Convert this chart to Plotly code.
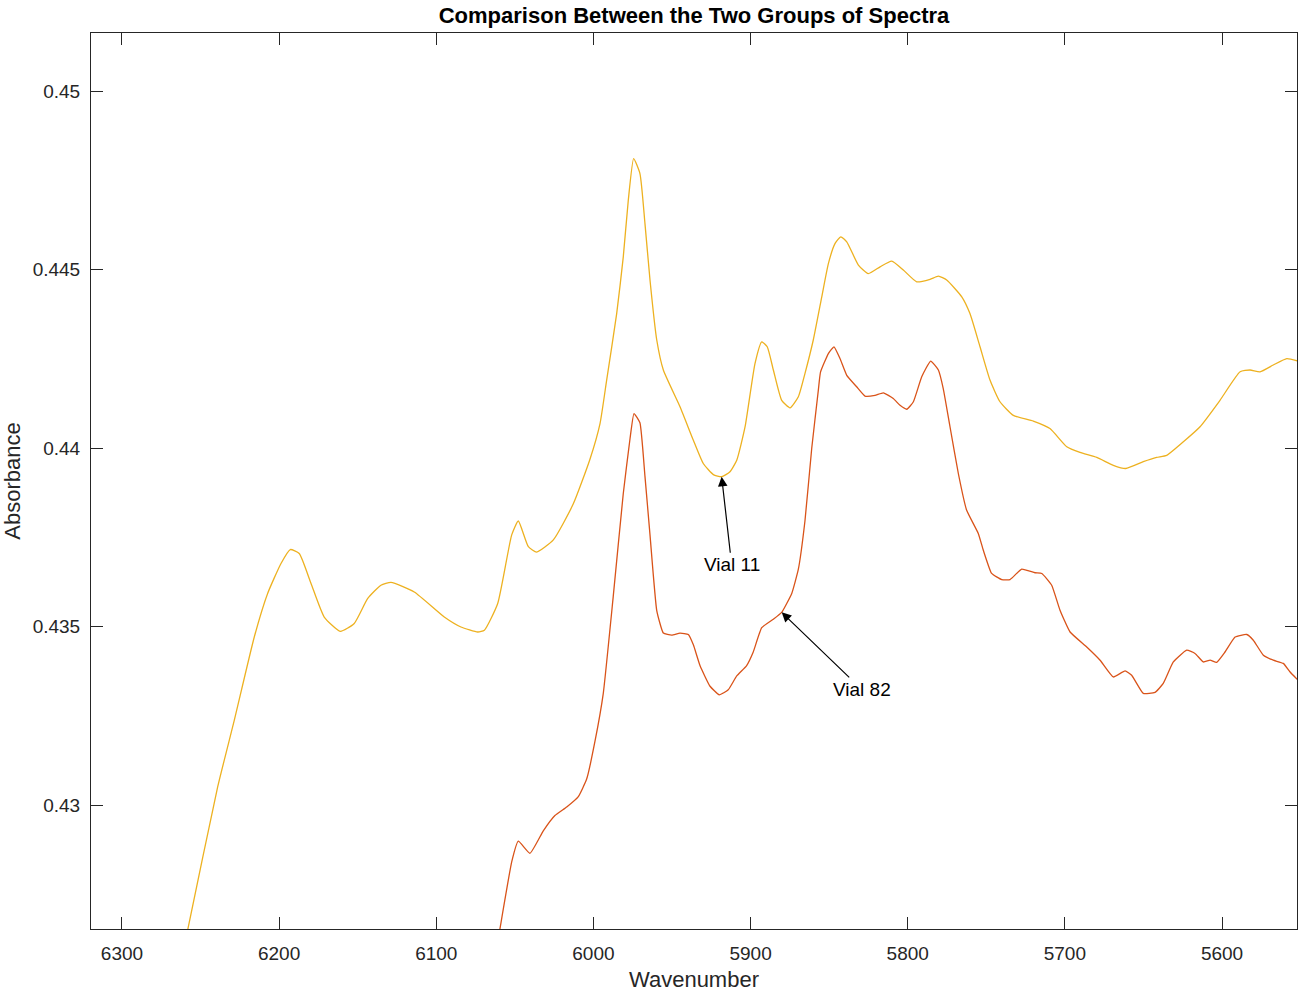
import plotly.graph_objects as go

# wavenumber / absorbance
wn_vial11 = [6263.1, 6258.2, 6239.1, 6228.5, 6215.8, 6207.3, 6198.8, 6192.9, 6187.2, 6179.7,
             6171.3, 6161.1, 6152.2, 6143.6, 6135.2, 6128.8, 6114.0, 6094.9, 6084.3, 6073.6,
             6069.4, 6060.9, 6052.0, 6047.8, 6041.4, 6036.1, 6025.5, 6012.8, 6002.2, 5995.8,
             5991.6, 5985.2, 5981.0, 5977.8, 5974.4, 5970.4, 5967.2, 5964.0, 5959.7, 5955.5,
             5944.9, 5936.4, 5930.1, 5923.7, 5918.4, 5913.1, 5908.8, 5903.5, 5897.2, 5892.9,
             5889.4, 5885.5, 5880.2, 5874.9, 5869.6, 5865.4, 5860.1, 5854.7, 5850.5, 5846.3,
             5842.6, 5838.8, 5831.4, 5825.1, 5817.6, 5810.2, 5802.8, 5794.3, 5785.8, 5780.5,
             5775.2, 5765.6, 5760.4, 5754.0, 5747.6, 5741.3, 5732.8, 5720.1, 5709.5, 5698.8,
             5690.4, 5679.7, 5669.2, 5661.3, 5650.1, 5641.6, 5635.2, 5624.6, 5614.0, 5601.3,
             5588.5, 5582.2, 5575.8, 5567.4, 5558.8, 5551.6]
abs_vial11 = [0.42547, 0.42650, 0.43051, 0.43238, 0.43471, 0.43593, 0.43677, 0.43716, 0.43705, 0.43621,
              0.43527, 0.43487, 0.43509, 0.43579, 0.43616, 0.43624, 0.43597, 0.43527, 0.43499, 0.43485,
              0.43490, 0.43565, 0.43757, 0.43796, 0.43724, 0.43709, 0.43743, 0.43844, 0.43969, 0.44069,
              0.44190, 0.44377, 0.44536, 0.44695, 0.44811, 0.44769, 0.44629, 0.44471, 0.44303, 0.44219,
              0.44116, 0.44022, 0.43957, 0.43926, 0.43920, 0.43934, 0.43966, 0.44060, 0.44237, 0.44298,
              0.44284, 0.44219, 0.44134, 0.44113, 0.44144, 0.44209, 0.44303, 0.44424, 0.44517, 0.44573,
              0.44592, 0.44578, 0.44513, 0.44489, 0.44508, 0.44524, 0.44499, 0.44466, 0.44473, 0.44482,
              0.44471, 0.44424, 0.44377, 0.44284, 0.44190, 0.44130, 0.44092, 0.44076, 0.44055, 0.44004,
              0.43988, 0.43974, 0.43952, 0.43943, 0.43962, 0.43974, 0.43980, 0.44018, 0.44060, 0.44134,
              0.44214, 0.44219, 0.44214, 0.44233, 0.44251, 0.44244]

wn_vial82 = [6062.6, 6059.5, 6052.0, 6047.8, 6040.4, 6031.9, 6024.5, 6017.0, 6009.6, 6004.3,
             5999.0, 5993.7, 5987.4, 5981.0, 5976.7, 5974.2, 5970.4, 5967.2, 5964.0, 5959.7,
             5955.5, 5950.2, 5944.9, 5939.6, 5936.4, 5932.2, 5925.8, 5919.9, 5914.2, 5908.8,
             5902.5, 5898.3, 5892.9, 5885.5, 5880.2, 5873.8, 5869.6, 5865.4, 5861.1, 5856.9,
             5855.5, 5850.5, 5846.9, 5843.1, 5838.8, 5832.5, 5827.2, 5820.8, 5815.5, 5809.2,
             5804.9, 5800.6, 5796.4, 5791.1, 5785.4, 5780.5, 5777.4, 5773.1, 5767.8, 5762.5,
             5755.1, 5751.9, 5746.6, 5740.2, 5734.9, 5727.5, 5719.0, 5714.7, 5708.4, 5703.1,
             5696.7, 5686.1, 5677.6, 5669.2, 5661.7, 5657.5, 5650.1, 5642.6, 5637.4, 5631.0,
             5622.5, 5617.2, 5611.9, 5607.6, 5603.4, 5598.1, 5591.7, 5584.3, 5580.1, 5573.7,
             5567.4, 5561.0, 5556.7, 5551.6]
abs_vial82 = [0.42573, 0.42653, 0.42841, 0.42899, 0.42865, 0.42928, 0.42971, 0.42995, 0.43024, 0.43073,
              0.43179, 0.43314, 0.43584, 0.43873, 0.44027, 0.44097, 0.44071, 0.43921, 0.43757, 0.43545,
              0.43482, 0.43476, 0.43482, 0.43478, 0.43449, 0.43391, 0.43333, 0.43309, 0.43323, 0.43362,
              0.43391, 0.43429, 0.43497, 0.43521, 0.43540, 0.43593, 0.43661, 0.43796, 0.43999, 0.44162,
              0.44213, 0.44265, 0.44284, 0.44251, 0.44204, 0.44172, 0.44146, 0.44148, 0.44155, 0.44139,
              0.44120, 0.44109, 0.44130, 0.44200, 0.44244, 0.44219, 0.44167, 0.44060, 0.43929, 0.43826,
              0.43761, 0.43714, 0.43649, 0.43632, 0.43632, 0.43661, 0.43651, 0.43649, 0.43616, 0.43546,
              0.43485, 0.43443, 0.43406, 0.43359, 0.43376, 0.43364, 0.43313, 0.43316, 0.43341, 0.43401,
              0.43434, 0.43425, 0.43401, 0.43406, 0.43400, 0.43429, 0.43471, 0.43478, 0.43462, 0.43420,
              0.43406, 0.43397, 0.43373, 0.43350]

x_ticks = [6300, 6200, 6100, 6000, 5900, 5800, 5700, 5600]
y_ticks = [0.43, 0.435, 0.44, 0.445, 0.45]
y_labels = ["0.43", "0.435", "0.44", "0.445", "0.45"]

font_name = "Liberation Sans, Arial, sans-serif"
axis_col = "#262626"

W, H = 1305, 995

fig = go.Figure()
fig.add_trace(go.Scatter(x=wn_vial11, y=abs_vial11, mode="lines",
                         line=dict(color="#EDB120", width=1.3, shape="spline", smoothing=0.5),
                         name="Vial 11"))
fig.add_trace(go.Scatter(x=wn_vial82, y=abs_vial82, mode="lines",
                         line=dict(color="#D95319", width=1.3, shape="spline", smoothing=0.4),
                         name="Vial 82"))

# arrows pointing at the curves
fig.add_annotation(x=5918.4, y=0.43920, text="Vial 11", showarrow=True,
                   ax=10, ay=88, arrowhead=2, arrowsize=1.6, arrowwidth=1.2, arrowcolor="black",
                   font=dict(family=font_name, size=19, color="black"))
fig.add_annotation(x=5880.2, y=0.43540, text="Vial 82", showarrow=True,
                   ax=80, ay=77, arrowhead=2, arrowsize=1.6, arrowwidth=1.2, arrowcolor="black",
                   font=dict(family=font_name, size=19, color="black"))

axis_common = dict(showline=True, linecolor=axis_col, linewidth=1, mirror="ticks",
                   ticks="inside", ticklen=12, tickcolor=axis_col, tickwidth=1,
                   showgrid=False, zeroline=False, automargin=False,
                   tickfont=dict(family=font_name, size=19, color=axis_col))

fig.update_xaxes(range=[6319.7, 5552.3], tickvals=x_ticks, ticklabelstandoff=7,
                 title=dict(text="Wavenumber", standoff=8,
                            font=dict(family=font_name, size=22, color=axis_col)),
                 **axis_common)
fig.update_yaxes(range=[0.42653, 0.45163], tickvals=y_ticks, ticktext=y_labels,
                 ticklabelstandoff=6,
                 title=dict(text="Absorbance", standoff=10,
                            font=dict(family=font_name, size=22, color=axis_col)),
                 **axis_common)

fig.update_layout(
    width=W, height=H,
    margin=dict(l=91, r=8, t=33, b=66),
    plot_bgcolor="white", paper_bgcolor="white",
    showlegend=False,
    title=dict(text="<b>Comparison Between the Two Groups of Spectra</b>",
               x=694 / W, xanchor="center", y=1 - 15.5 / H, yanchor="middle",
               font=dict(family=font_name, size=22, color="black")),
)

# drop the default page margin so the figure sits at the window's corner
fig.write_html("out.html", config={"displayModeBar": False},
               post_script="document.body.style.margin='0';")
